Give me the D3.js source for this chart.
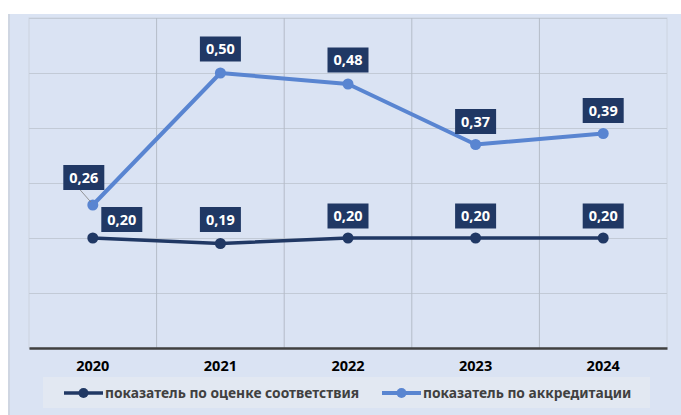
<!DOCTYPE html>
<html>
<head>
<meta charset="utf-8">
<script src="https://cdn.jsdelivr.net/npm/d3@7"></script>
<style>
  body { margin: 0; background: #fff; }
  text { font-family: "Noto Sans", "Open Sans", sans-serif; }
</style>
</head>
<body>
<svg id="mainsvg" width="681" height="415"></svg>
<script>
  // data
  const years = ['2020', '2021', '2022', '2023', '2024'];
  const conformity = [0.20, 0.19, 0.20, 0.20, 0.20];
  const accreditation = [0.26, 0.50, 0.48, 0.37, 0.39];
  const yTicks = [0, 0.1, 0.2, 0.3, 0.4, 0.5, 0.6];
  const seriesNames = ['показатель по оценке соответствия', 'показатель по аккредитации'];

  const svg = d3.select('#mainsvg');
  const margin = { top: 18, right: 14, bottom: 67, left: 29 };
  const width = 681, height = 415;
  const innerWidth = 667 - margin.left;
  const innerHeight = 348 - margin.top;

  // chart background
  svg.append('rect').attr('x', 8).attr('y', 14).attr('width', width - 8).attr('height', height - 14)
    .attr('fill', '#dae3f3');
  svg.append('rect').attr('x', 8).attr('y', 14).attr('width', 2).attr('height', height - 14)
    .attr('fill', '#cfd6e2');

  const g = svg.append('g').attr('transform', `translate(${margin.left},${margin.top})`);

  const xScale = d3.scaleBand().domain(years).range([0, innerWidth]);
  const yScale = d3.scaleLinear().domain([0, 0.6]).range([innerHeight, 0]);

  // plot area border
  g.append('rect').attr('width', innerWidth).attr('height', innerHeight)
    .attr('fill', 'none').attr('stroke', '#ccd4e0').attr('stroke-width', 1);

  // horizontal grid
  const yAxis = d3.axisLeft(yScale).tickValues(yTicks).tickSize(-innerWidth).tickFormat('');
  const yg = g.append('g').call(yAxis);
  yg.select('.domain').remove();
  yg.selectAll('line').attr('stroke', '#c2cad6');

  // vertical grid between categories
  const xAxisGrid = d3.axisBottom(xScale).tickSize(-innerHeight).tickFormat('');
  const vg = g.append('g').attr('transform', `translate(0,${innerHeight})`).call(xAxisGrid);
  vg.select('.domain').remove();
  vg.selectAll('.tick').attr('transform', d => `translate(${xScale(d) + xScale.bandwidth()},0)`);
  vg.selectAll('.tick').filter(d => d === years[years.length - 1]).remove();
  vg.selectAll('line').attr('stroke', '#b4bcc8');

  // x axis
  const xAxis = d3.axisBottom(xScale).tickSize(0).tickPadding(13);
  const xg = g.append('g').attr('transform', `translate(0,${innerHeight})`).call(xAxis);
  xg.select('.domain').attr('stroke', '#404040').attr('stroke-width', 2.5);
  xg.selectAll('text').attr('font-size', 14.5).attr('font-weight', 'bold').attr('fill', '#000')
    .attr('font-family', '"Noto Sans", sans-serif');

  const cx = d => xScale(d) + xScale.bandwidth() / 2;
  const fmt = v => d3.format('.2f')(v).replace('.', ',');

  const series = [
    { name: seriesNames[0], values: conformity, color: '#203864', width: 3.5 },
    { name: seriesNames[1], values: accreditation, color: '#5985d1', width: 4 }
  ];

  const line = d3.line().x((d, i) => cx(years[i])).y(d => yScale(d));

  series.forEach(s => {
    g.append('path').datum(s.values).attr('d', line)
      .attr('fill', 'none').attr('stroke', s.color).attr('stroke-width', s.width)
      .attr('stroke-linejoin', 'round');
    g.selectAll(null).data(s.values).join('circle')
      .attr('cx', (d, i) => cx(years[i])).attr('cy', d => yScale(d)).attr('r', 5.5)
      .attr('fill', s.color);
  });

  // data labels (offsets of box centre from point)
  const labelOffsets = [
    [[29, -18.5], [0, -24], [0, -22], [0, -22], [0, -22]],
    [[-9, -27.5], [0, -24], [0, -24], [0, -23], [0, -23]]
  ];
  series.forEach((s, si) => {
    s.values.forEach((v, i) => {
      const px = cx(years[i]), py = yScale(v);
      const [dx, dy] = labelOffsets[si][i];
      const bx = px + dx, by = py + dy;
      if (si === 1 && i === 0) {
        g.append('line').attr('x1', px - 2).attr('y1', py - 3).attr('x2', bx - 4).attr('y2', by + 12)
          .attr('stroke', '#7f7f7f').attr('stroke-width', 0.8);
      }
      g.append('rect').attr('x', bx - 20.5).attr('y', by - 12.5).attr('width', 41).attr('height', 25)
        .attr('fill', '#203864');
      g.append('text').attr('x', bx).attr('y', by).attr('dy', '0.36em')
        .attr('text-anchor', 'middle').attr('fill', '#fff').attr('font-size', 14.5)
        .attr('font-weight', 'bold').text(fmt(v));
    });
  });

  // legend
  const legend = svg.append('g');
  legend.append('rect').attr('x', 43).attr('y', 377).attr('width', 607).attr('height', 31)
    .attr('fill', '#e2e8f2');
  const legendX = [64, 382];
  series.forEach((s, i) => {
    const lg = legend.append('g').attr('transform', `translate(${legendX[i]},393)`);
    lg.append('line').attr('x1', 0).attr('x2', 39).attr('stroke', s.color).attr('stroke-width', s.width);
    lg.append('circle').attr('cx', 19.5).attr('r', 5).attr('fill', s.color);
    lg.append('text').attr('x', 41).attr('dy', '0.35em').attr('font-size', 13.8)
      .attr('font-weight', 'bold').attr('fill', '#404040').text(s.name);
  });
</script>
</body>
</html>
